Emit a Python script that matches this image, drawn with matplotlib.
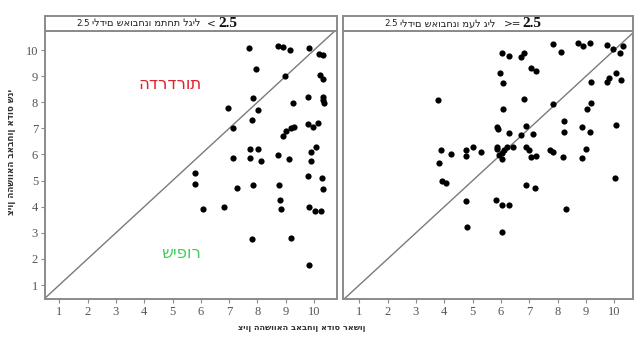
import matplotlib
matplotlib.use("Agg")
import matplotlib.pyplot as plt
from matplotlib.patches import Rectangle

# ---------------- data ----------------
left_x = [7.70, 8.72, 8.89, 9.16, 9.83, 10.17, 10.31, 7.95, 8.99, 10.21, 10.31,
          7.83, 6.95, 8.01, 9.26, 9.80, 10.33, 10.31, 10.35, 7.80, 7.15,
          9.28, 9.20, 9.02, 8.92, 9.80, 9.95, 10.15, 7.73, 8.02, 10.07, 9.88,
          7.13, 7.73, 8.13, 8.74, 9.11, 9.88, 5.79, 5.79, 7.28, 7.86, 8.76,
          9.78, 10.27, 10.31, 6.07, 6.81, 8.80, 8.83, 9.81, 10.04, 10.25,
          7.80, 9.18, 9.81]
left_y = [10.07, 10.17, 10.10, 10.00, 10.07, 9.84, 9.81, 9.28, 8.99, 9.05, 8.88,
          8.15, 7.79, 7.69, 7.97, 8.21, 8.21, 8.09, 7.98, 7.32, 7.00,
          7.07, 7.03, 6.91, 6.71, 7.16, 7.07, 7.21, 6.20, 6.22, 6.30, 6.11,
          5.87, 5.85, 5.75, 5.98, 5.83, 5.76, 5.28, 4.86, 4.73, 4.82, 4.82,
          5.19, 5.09, 4.69, 3.90, 4.00, 4.26, 3.92, 4.00, 3.84, 3.84,
          2.75, 2.80, 1.75]

right_x = [7.83, 8.13, 8.72, 8.88, 9.15, 9.74, 9.94, 10.29, 10.19, 6.02, 6.29,
           6.71, 6.82, 7.07, 7.24, 5.97, 6.07, 9.18, 9.74, 9.83, 10.07, 10.25,
           3.77, 6.81, 6.08, 7.83, 9.18, 9.04, 5.86, 5.88, 6.87, 6.29, 6.71,
           7.13, 8.21, 8.21, 8.86, 9.13, 10.07,
           3.88, 4.23, 4.77, 5.01, 4.77, 5.29, 5.86, 6.23, 6.05, 5.94, 5.87,
           6.11, 6.43, 6.04, 6.89, 6.99, 7.07, 7.24, 7.74, 7.83, 8.19, 8.86,
           9.01, 3.82, 3.91, 4.05, 6.89, 7.21, 10.01, 4.77, 5.81, 6.02, 6.29,
           8.29, 4.79, 6.02]
right_y = [10.22, 9.94, 10.28, 10.17, 10.28, 10.20, 10.04, 10.16, 9.88, 9.89, 9.79,
           9.75, 9.88, 9.33, 9.21, 9.11, 8.73, 8.79, 8.79, 8.94, 9.11, 8.85,
           8.09, 8.11, 7.75, 7.93, 7.98, 7.75, 7.07, 6.99, 7.10, 6.81, 6.74,
           6.80, 7.27, 6.85, 7.04, 6.87, 7.13,
           6.17, 6.01, 6.17, 6.28, 5.95, 6.10, 6.21, 6.28, 6.07, 5.99, 6.29,
           6.17, 6.29, 5.82, 6.28, 6.17, 5.92, 5.95, 6.17, 6.10, 5.92, 5.88,
           6.22, 5.69, 5.00, 4.92, 4.83, 4.73, 5.09, 4.21, 4.27, 4.07, 4.08,
           3.90, 3.21, 3.04]

ticks = [1, 2, 3, 4, 5, 6, 7, 8, 9, 10]
tick_labels = [str(t) for t in ticks]

title_left_heb = "ילדים שאובחנו מתחת לגיל"
title_right_heb = "ילדים שאובחנו מעל גיל"
xlabel_heb = "ציון ההשוואה באבחון אדוס ראשון"
ylabel_heb = "ציון ההשוואה באבחון אדוס שני"
worse_heb = "הדרדרות"
better_heb = "שיפור"

# ---------------- figure ----------------
W, H = 634, 337
fig = plt.figure(figsize=(W / 100, H / 100), dpi=100)

def fx(px):
    return px / W

def fy(py):
    return 1 - py / H

frame_col = "#8a8a8a"
tick_col = "#555555"

def make_ax(x0, x1, xlim):
    ax = fig.add_axes([fx(x0), fy(299), fx(x1) - fx(x0), fy(31) - fy(299)])
    ax.set_xlim(*xlim)
    ax.set_ylim(0.464, 10.73)
    for sp in ax.spines.values():
        sp.set_color(frame_col)
        sp.set_linewidth(1.4)
    ax.plot([0, 11], [0, 11], color="#7a7a7a", lw=1.0, zorder=1)
    ax.set_xticks(ticks)
    ax.set_xticklabels(tick_labels, family="Liberation Serif", fontsize=9,
                       color=tick_col)
    ax.tick_params(axis="both", length=3, width=0.8, color=frame_col, pad=2)
    return ax

axL = make_ax(45, 337, (0.495, 10.81))
axR = make_ax(343, 633, (0.424, 10.66))

axL.scatter(left_x, left_y, s=20, color="black", zorder=3, linewidths=0)
axR.scatter(right_x, right_y, s=20, color="black", zorder=3, linewidths=0)

axL.set_yticks(ticks)
axL.set_yticklabels(tick_labels, family="Liberation Serif", fontsize=9,
                    color=tick_col)
axR.set_yticks([])

# title strips
for x0, x1 in [(45, 337), (343, 633)]:
    fig.patches.append(Rectangle((fx(x0), fy(31)), fx(x1) - fx(x0),
                                 fy(15.5) - fy(31), transform=fig.transFigure,
                                 facecolor="white", edgecolor=frame_col,
                                 linewidth=1.4))

ty = fy(23.5)
hs = 7.0
fig.text(fx(76), ty, "2.5", fontsize=6.2, family="DejaVu Sans",
         ha="left", va="center", color="#222222")
fig.text(fx(92), ty, title_left_heb, fontsize=hs, family="DejaVu Sans",
         ha="left", va="center", color="#222222")
fig.text(fx(211), ty, "<", fontsize=7.5, family="DejaVu Sans",
         ha="center", va="center", color="#222222")
fig.text(fx(237), ty, "2.5", fontsize=11, family="Liberation Serif",
         weight="bold", ha="right", va="center", color="#111111")

fig.text(fx(384), ty, "2.5", fontsize=6.2, family="DejaVu Sans",
         ha="left", va="center", color="#222222")
fig.text(fx(400), ty, title_right_heb, fontsize=hs, family="DejaVu Sans",
         ha="left", va="center", color="#222222")
fig.text(fx(513), ty, ">=", fontsize=7.5, family="DejaVu Sans",
         ha="center", va="center", color="#222222")
fig.text(fx(541), ty, "2.5", fontsize=11, family="Liberation Serif",
         weight="bold", ha="right", va="center", color="#111111")

# axis labels
fig.text(fx(302), fy(327), xlabel_heb, fontsize=5.9, family="DejaVu Sans",
         weight="bold", ha="center", va="center", color="#333333")
fig.text(fx(12), fy(152), ylabel_heb, fontsize=6.3, family="DejaVu Sans",
         weight="bold", ha="center", va="center", rotation=90, color="#333333")

# annotations
fig.text(fx(170), fy(84), worse_heb, fontsize=12, family="DejaVu Sans",
         ha="center", va="center", color="#e0202c")
fig.text(fx(181), fy(253), better_heb, fontsize=12, family="DejaVu Sans",
         ha="center", va="center", color="#3ed35a")

fig.savefig("out.png", dpi=100)
